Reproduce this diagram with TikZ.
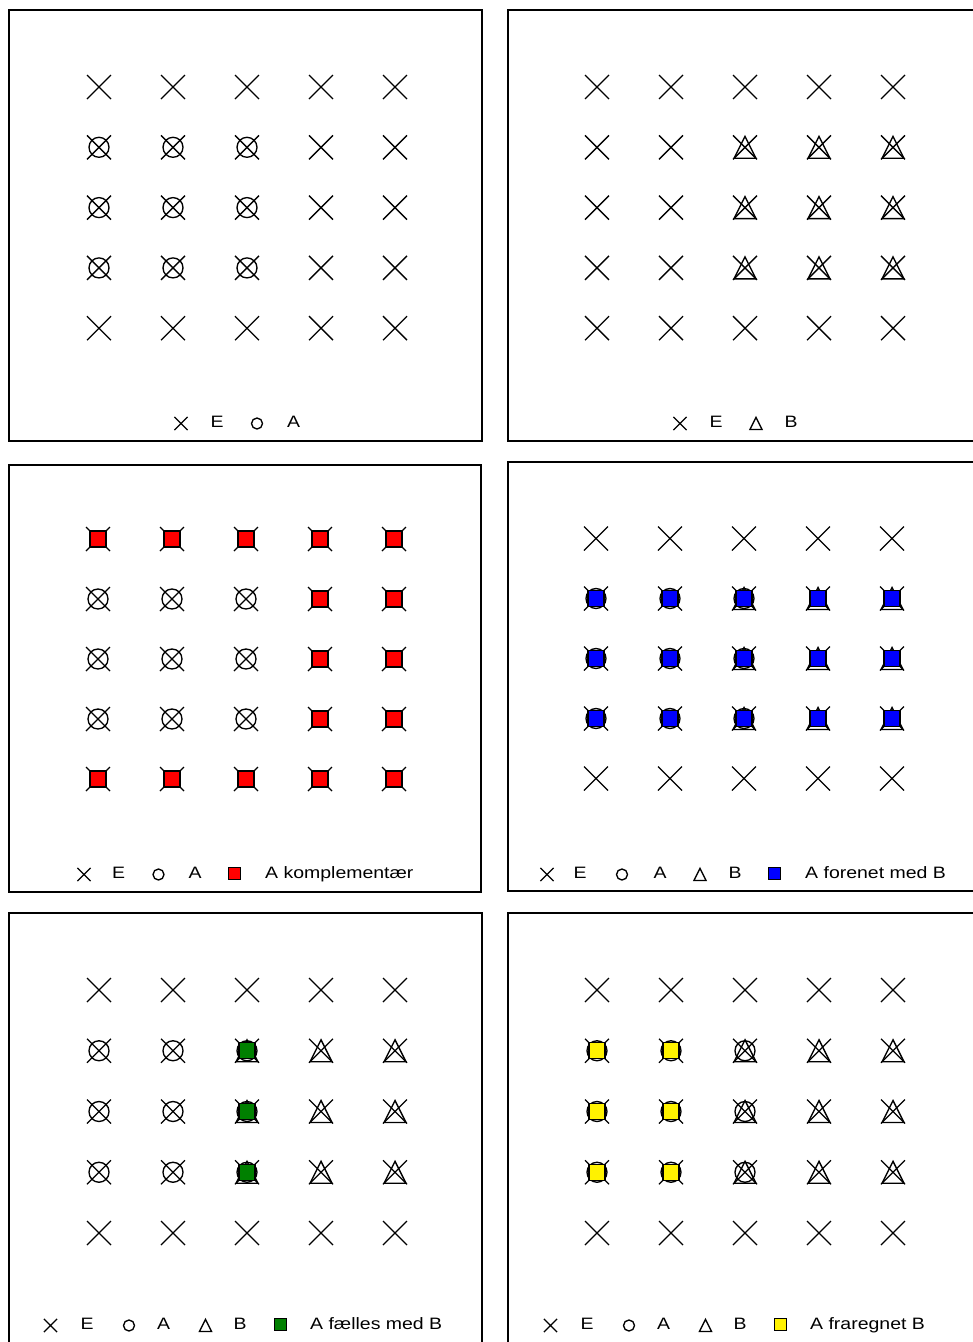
\documentclass[tikz,border=0pt]{standalone}
\usepackage{fontspec}
\setmainfont{Liberation Sans}[FakeStretch=1.18]
\usetikzlibrary{positioning}
\definecolor{sqgreen}{RGB}{0,128,0}
\begin{document}
\begin{tikzpicture}[x=1pt, y=-1pt,
  mk/.style={line width=1.35pt},
  frame/.style={line width=1.3pt},
  lgd/.style={font=\fontsize{16.5}{20}\selectfont, inner sep=0pt, anchor=base},
  lgdtxt/.style={lgd, anchor=base west},
  pics/ecross/.style={code={\draw[mk] (-12,-12) -- (12,12) (-12,12) -- (12,-12);}},
  pics/acirc/.style={code={\draw[mk] (0,0) circle[radius=10];}},
  pics/btri/.style={code={\draw[mk, line join=miter] (-11,11) -- (11,11) -- (0,-11) -- cycle;}},
  pics/fsq/.style={code={\filldraw[mk, fill=#1] (-8,-8) rectangle (8,8);}},
  pics/lsq/.style={code={\filldraw[line width=0.9pt, fill=#1] (-6,-6) rectangle (6,6);}},
  small/.style={scale=0.55}]
\useasboundingbox (0,0) rectangle (973,1342);
\clip (0,0) rectangle (973,1342);

% frames
\draw[frame] (9,10) rectangle (482,441);
\draw[frame] (508,10) rectangle (990,441);
\draw[frame] (9,465) rectangle (481,892);
\draw[frame] (508,462) rectangle (990,891);
\draw[frame] (9,913) rectangle (482,1360);
\draw[frame] (508,913) rectangle (990,1360);

% top left: E and A
\begin{scope}[shift={(99,87)}]
\foreach \c in {0,...,4} \foreach \r in {0,...,4} \pic at (74*\c,60.3*\r) {ecross};
\foreach \c in {0,1,2} \foreach \r in {1,2,3} \pic at (74*\c,60.3*\r) {acirc};
\end{scope}
\pic[small] at (181,423.5) {ecross};
\node[lgd] (tl-e) at (217,427) {E};
\pic[small] at (257,423.5) {acirc};
\node[lgd] (tl-a) at (293.5,427) {A};

% top right: E and B
\begin{scope}[shift={(597,87)}]
\foreach \c in {0,...,4} \foreach \r in {0,...,4} \pic at (74*\c,60.3*\r) {ecross};
\foreach \c in {2,3,4} \foreach \r in {1,2,3} \pic at (74*\c,60.3*\r) {btri};
\end{scope}
\pic[small] at (680,423.5) {ecross};
\node[lgd] (tr-e) at (716,427) {E};
\pic[small] at (756,423.5) {btri};
\node[lgd] (tr-b) at (791,427) {B};

% middle left: complement of A
\begin{scope}[shift={(98,539)}]
\foreach \c in {0,...,4} \foreach \r in {0,...,4} \pic at (74*\c,60*\r) {ecross};
\foreach \c in {0,1,2} \foreach \r in {1,2,3} \pic at (74*\c,60*\r) {acirc};
\foreach \c in {0,...,4} \foreach \r in {0,4} \pic at (74*\c,60*\r) {fsq=red};
\foreach \c in {3,4} \foreach \r in {1,2,3} \pic at (74*\c,60*\r) {fsq=red};
\end{scope}
\pic[small] at (84,874.5) {ecross};
\node[lgd] (ml-e) at (118.5,878) {E};
\pic[small] at (158.5,874.5) {acirc};
\node[lgd] (ml-a) at (195,878) {A};
\pic at (234.5,873.5) {lsq=red};
\node[lgdtxt] (ml-txt) at (265,878) {A komplementær};

% middle right: A union B
\begin{scope}[shift={(596,538.5)}]
\foreach \c in {0,...,4} \foreach \r in {0,...,4} \pic at (74*\c,60*\r) {ecross};
\foreach \c in {0,1,2} \foreach \r in {1,2,3} \pic at (74*\c,60*\r) {acirc};
\foreach \c in {2,3,4} \foreach \r in {1,2,3} \pic at (74*\c,60*\r) {btri};
\foreach \c in {0,...,4} \foreach \r in {1,2,3} \pic at (74*\c,60*\r) {fsq=blue};
\end{scope}
\pic[small] at (547,874.5) {ecross};
\node[lgd] (mr-e) at (580,878) {E};
\pic[small] at (622,874.5) {acirc};
\node[lgd] (mr-a) at (660,878) {A};
\pic[small] at (700,874.5) {btri};
\node[lgd] (mr-b) at (735,878) {B};
\pic at (774.5,873.5) {lsq=blue};
\node[lgdtxt] (mr-txt) at (805,878) {A forenet med B};

% bottom left: A intersect B
\begin{scope}[shift={(99,990)}]
\foreach \c in {0,...,4} \foreach \r in {0,...,4} \pic at (74*\c,60.75*\r) {ecross};
\foreach \c in {0,1,2} \foreach \r in {1,2,3} \pic at (74*\c,60.75*\r) {acirc};
\foreach \c in {2,3,4} \foreach \r in {1,2,3} \pic at (74*\c,60.75*\r) {btri};
\foreach \r in {1,2,3} \pic at (148,60.75*\r) {fsq=sqgreen};
\end{scope}
\pic[small] at (50.5,1325.5) {ecross};
\node[lgd] (bl-e) at (87,1329) {E};
\pic[small] at (129,1325.5) {acirc};
\node[lgd] (bl-a) at (163.5,1329) {A};
\pic[small] at (205.5,1325.5) {btri};
\node[lgd] (bl-b) at (240,1329) {B};
\pic at (280.5,1324.5) {lsq=sqgreen};
\node[lgdtxt] (bl-txt) at (310,1329) {A fælles med B};

% bottom right: A minus B
\begin{scope}[shift={(597,990)}]
\foreach \c in {0,...,4} \foreach \r in {0,...,4} \pic at (74*\c,60.75*\r) {ecross};
\foreach \c in {0,1,2} \foreach \r in {1,2,3} \pic at (74*\c,60.75*\r) {acirc};
\foreach \c in {2,3,4} \foreach \r in {1,2,3} \pic at (74*\c,60.75*\r) {btri};
\foreach \c in {0,1} \foreach \r in {1,2,3} \pic at (74*\c,60.75*\r) {fsq=yellow};
\end{scope}
\pic[small] at (550.5,1325.5) {ecross};
\node[lgd] (br-e) at (587,1329) {E};
\pic[small] at (629,1325.5) {acirc};
\node[lgd] (br-a) at (663.5,1329) {A};
\pic[small] at (705.5,1325.5) {btri};
\node[lgd] (br-b) at (740,1329) {B};
\pic at (780.5,1324.5) {lsq=yellow};
\node[lgdtxt] (br-txt) at (810,1329) {A fraregnet B};
\end{tikzpicture}
\end{document}
